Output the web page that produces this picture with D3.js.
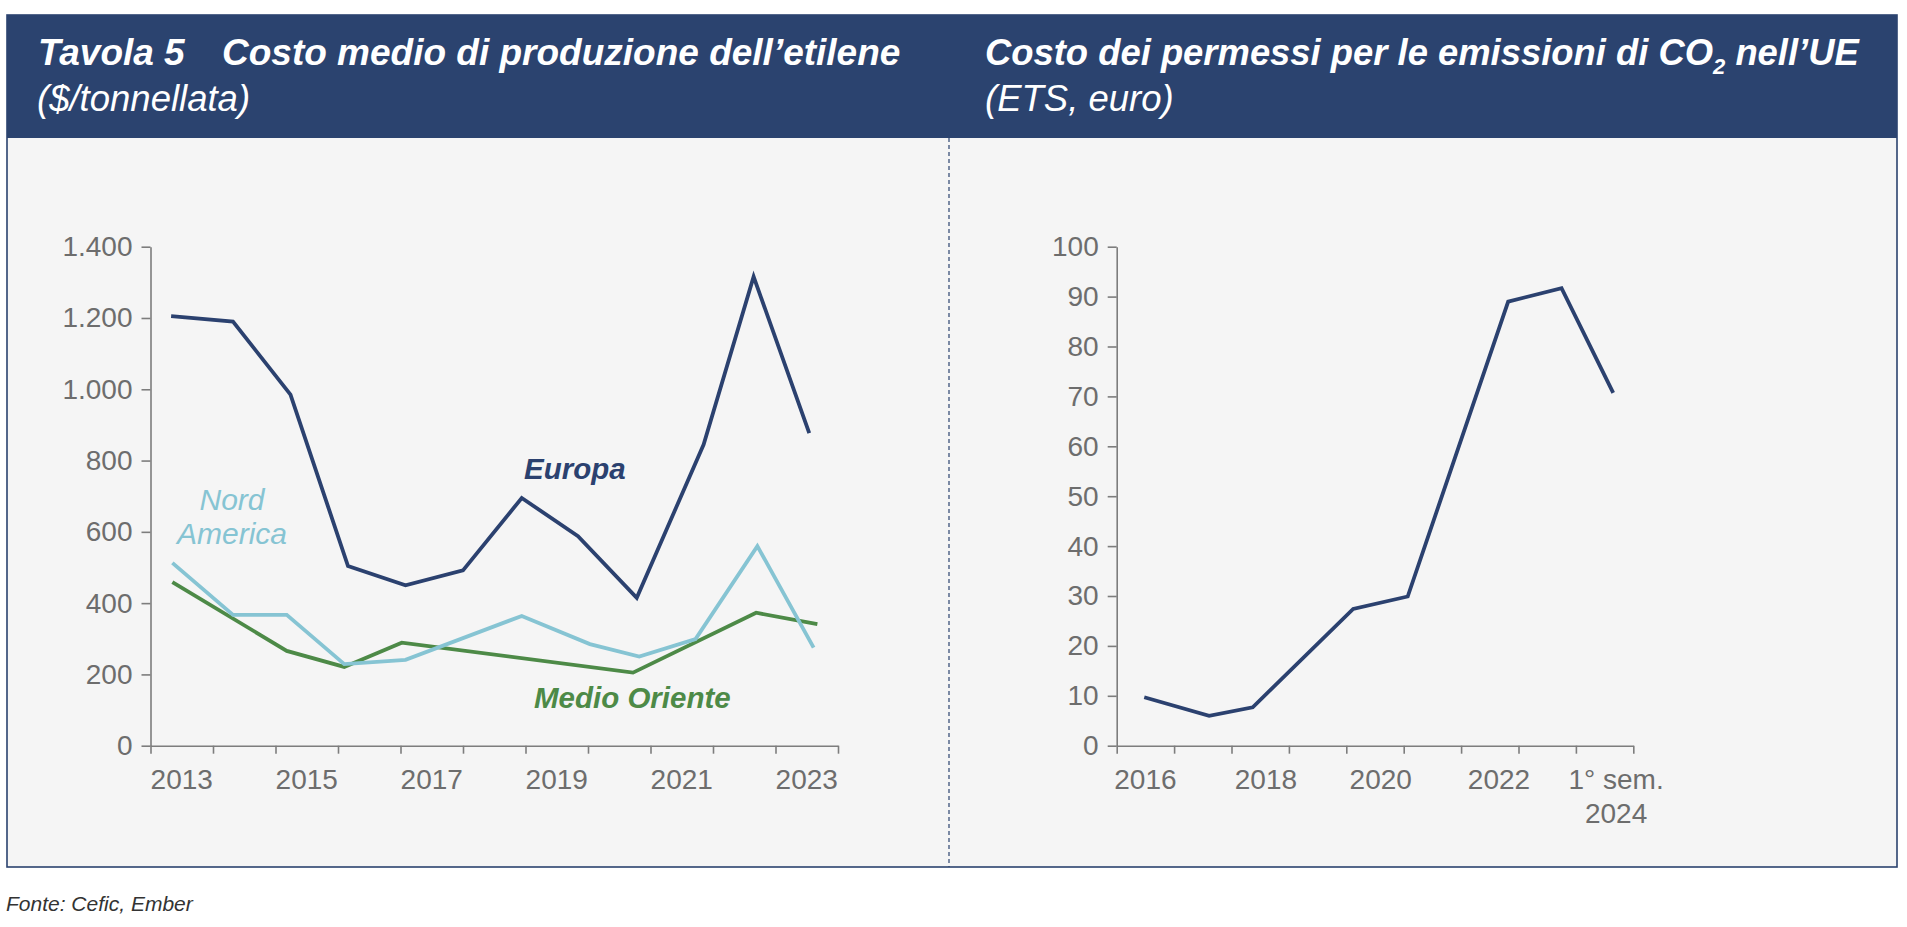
<!DOCTYPE html>
<html><head><meta charset="utf-8">
<script src="https://cdn.jsdelivr.net/npm/d3@7"></script>
<style>
body{margin:0;background:#fff;}
svg{display:block;font-family:"Liberation Sans",Arial,Helvetica,sans-serif;}
</style>
</head><body>
<svg id="c" width="1907" height="927"></svg>
<script>
// ---------- DATA ----------
const leftYTicks = [0, 200, 400, 600, 800, 1000, 1200, 1400];
const leftXTicks = [2013,2014,2015,2016,2017,2018,2019,2020,2021,2022,2023,2024];
const leftXLabels = ["2013","2015","2017","2019","2021","2023"];
const leftXLabelPos = [2013.5, 2015.5, 2017.5, 2019.5, 2021.5, 2023.5];

const europaX = [2013.33, 2014.32, 2015.24, 2016.16, 2017.08, 2018.00, 2018.94, 2019.84, 2020.78, 2021.85, 2022.65, 2023.54];
const europaY = [1205, 1190, 985, 504, 450, 492, 695, 588, 415, 845, 1316, 877];

const nordAmericaX = [2013.35, 2014.32, 2015.18, 2016.10, 2017.08, 2018.94, 2020.03, 2020.82, 2021.72, 2022.71, 2023.61];
const nordAmericaY = [513, 367, 367, 229, 241, 364, 285, 250, 299, 560, 275];

const medioOrienteX = [2013.35, 2015.18, 2016.10, 2017.02, 2020.72, 2022.69, 2023.67];
const medioOrienteY = [459, 266, 221, 289, 205, 373, 341];

const rightYTicks = [0,10,20,30,40,50,60,70,80,90,100];
const rightXTicks = [2016,2017,2018,2019,2020,2021,2022,2023,2024,2025];
const rightXLabels = [["2016"],["2018"],["2020"],["2022"],["1° sem.","2024"]];
const rightXLabelPos = [2016.5, 2018.6, 2020.6, 2022.66, 2024.7];

const co2X = [2016.48, 2017.61, 2018.37, 2020.12, 2021.07, 2022.82, 2023.75, 2024.65];
const co2Y = [9.7, 6.0, 7.7, 27.4, 29.9, 89.0, 91.7, 70.7];

// ---------- STYLE ----------
const NAVY = "#2b436f";
const C_EUROPA = "#2b416f";
const C_NORD = "#86c4d3";
const C_MEDIO = "#4d8a47";
const AXIS = "#7d7d7d";
const TICKTXT = "#6d6d6d";

const svg = d3.select("#c");

// frame
svg.append("rect").attr("x",7).attr("y",15).attr("width",1890).attr("height",852)
  .attr("fill","#f5f5f5").attr("stroke",NAVY).attr("stroke-width",1.6);
svg.append("rect").attr("x",7).attr("y",15).attr("width",1890).attr("height",123).attr("fill",NAVY);
svg.append("line").attr("x1",949).attr("x2",949).attr("y1",138).attr("y2",867)
  .attr("stroke",NAVY).attr("stroke-width",1.2).attr("stroke-dasharray","4,3");

// titles
const tg = svg.append("g").attr("fill","#fff");
tg.append("text").attr("x",38).attr("y",65).attr("font-size",37).attr("font-weight","bold").attr("font-style","italic").text("Tavola 5");
tg.append("text").attr("x",222).attr("y",65).attr("font-size",37).attr("font-weight","bold").attr("font-style","italic").text("Costo medio di produzione dell’etilene");
tg.append("text").attr("x",37).attr("y",111).attr("font-size",36.5).attr("font-style","italic").text("($/tonnellata)");
const rt = tg.append("text").attr("x",985).attr("y",65).attr("font-size",36.4).attr("font-weight","bold").attr("font-style","italic");
rt.append("tspan").text("Costo dei permessi per le emissioni di CO");
rt.append("tspan").attr("font-size",22).attr("dy",9).text("2");
rt.append("tspan").attr("dy",-9).text(" nell’UE");
tg.append("text").attr("x",985).attr("y",111).attr("font-size",36.5).attr("font-style","italic").text("(ETS, euro)");

// footer
svg.append("text").attr("x",6).attr("y",911).attr("font-size",21).attr("font-style","italic").attr("fill","#333").text("Fonte: Cefic, Ember");

const itFmt = d3.formatLocale({decimal:",", thousands:".", grouping:[3], currency:["","€"]}).format(",");

function styleAxis(g){
  g.selectAll("path,line").attr("stroke",AXIS).attr("stroke-width",1.6);
  g.selectAll("text").attr("fill",TICKTXT).attr("font-size",28).attr("font-family",'"Liberation Sans",Arial,sans-serif');
}

// ---------- LEFT CHART ----------
const xL = d3.scaleLinear().domain([2013,2024]).range([150.5,838]);
const yL = d3.scaleLinear().domain([0,1400]).range([745.7,246.7]);

const gLy = svg.append("g").attr("transform",`translate(${xL.range()[0]},0)`)
  .call(d3.axisLeft(yL).tickValues(leftYTicks).tickFormat(itFmt).tickSize(9).tickSizeOuter(0).tickPadding(9));
styleAxis(gLy);
const gLx = svg.append("g").attr("transform",`translate(0,${yL(0)})`)
  .call(d3.axisBottom(xL).tickValues(leftXTicks).tickFormat("").tickSize(8).tickSizeOuter(0));
styleAxis(gLx);
svg.append("g").selectAll("text").data(leftXLabels).join("text")
  .attr("x",(d,i)=>xL(leftXLabelPos[i])).attr("y",789).attr("text-anchor","middle")
  .attr("fill",TICKTXT).attr("font-size",28).text(d=>d);

const lineL = d3.line().x(d=>xL(d[0])).y(d=>yL(d[1]));
const series = [
  {x:medioOrienteX, y:medioOrienteY, c:C_MEDIO},
  {x:nordAmericaX, y:nordAmericaY, c:C_NORD},
  {x:europaX, y:europaY, c:C_EUROPA}
];
series.forEach(s=>{
  svg.append("path").datum(s.x.map((v,i)=>[v,s.y[i]])).attr("d",lineL)
    .attr("fill","none").attr("stroke",s.c).attr("stroke-width",3.8).attr("stroke-linejoin","miter");
});

// series labels
svg.append("text").attr("x",524).attr("y",479).attr("font-size",29.5).attr("font-weight","bold").attr("font-style","italic").attr("fill",C_EUROPA).text("Europa");
svg.append("text").attr("x",534).attr("y",708).attr("font-size",29.5).attr("font-weight","bold").attr("font-style","italic").attr("fill",C_MEDIO).text("Medio Oriente");
const na = svg.append("text").attr("font-size",30).attr("font-style","italic").attr("fill",C_NORD).attr("text-anchor","middle");
na.append("tspan").attr("x",232).attr("y",510).text("Nord");
na.append("tspan").attr("x",232).attr("y",544).text("America");

// ---------- RIGHT CHART ----------
const xR = d3.scaleLinear().domain([2016,2025]).range([1116.7,1633.3]);
const yR = d3.scaleLinear().domain([0,100]).range([745.7,246.7]);

const gRy = svg.append("g").attr("transform",`translate(${xR.range()[0]},0)`)
  .call(d3.axisLeft(yR).tickValues(rightYTicks).tickSize(9).tickSizeOuter(0).tickPadding(9));
styleAxis(gRy);
const gRx = svg.append("g").attr("transform",`translate(0,${yR(0)})`)
  .call(d3.axisBottom(xR).tickValues(rightXTicks).tickFormat("").tickSize(8).tickSizeOuter(0));
styleAxis(gRx);
const rl = svg.append("g").selectAll("text").data(rightXLabels).join("text")
  .attr("text-anchor","middle").attr("fill",TICKTXT).attr("font-size",28);
rl.each(function(d,i){
  d3.select(this).selectAll("tspan").data(d).join("tspan")
    .attr("x",xR(rightXLabelPos[i])).attr("y",(t,j)=>789+j*34).text(t=>t);
});

const lineR = d3.line().x(d=>xR(d[0])).y(d=>yR(d[1]));
svg.append("path").datum(co2X.map((v,i)=>[v,co2Y[i]])).attr("d",lineR)
  .attr("fill","none").attr("stroke",C_EUROPA).attr("stroke-width",3.8);
</script>
</body></html>
